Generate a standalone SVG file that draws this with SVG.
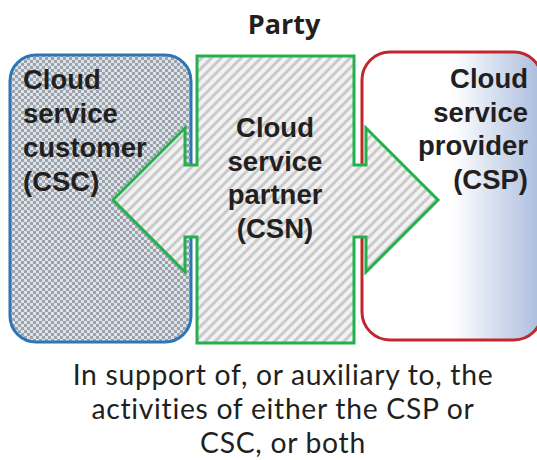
<svg xmlns="http://www.w3.org/2000/svg" width="537" height="460" viewBox="0 0 537 460">
<style>
.lbl{font-family:"Liberation Sans",Arial,sans-serif;font-weight:bold;font-size:27.5px;fill:#231f20}
.cap{font-family:Lato,"Open Sans",sans-serif;font-size:28.3px;letter-spacing:0.7px;fill:#231f20}
.title{font-family:"Open Sans","Liberation Sans",sans-serif;font-weight:bold;font-size:27px;fill:#231f20}
</style>
<defs>
<pattern id="checker" width="6" height="6" patternUnits="userSpaceOnUse">
<rect width="6" height="6" fill="#d8e5f1"/>
<rect width="3" height="3" fill="#a0a2a6"/>
<rect x="3" y="3" width="3" height="3" fill="#a0a2a6"/>
</pattern>
<pattern id="stripes" width="7" height="7" patternUnits="userSpaceOnUse" patternTransform="rotate(-45)">
<rect width="7" height="7" fill="#f2f2f2"/>
<rect width="7" height="3" fill="#cacaca"/>
</pattern>
<linearGradient id="grad" x1="0" y1="0" x2="1" y2="0">
<stop offset="0" stop-color="#ffffff"/>
<stop offset="0.5" stop-color="#ffffff"/>
<stop offset="1" stop-color="#aabcdd"/>
</linearGradient>
</defs>
<text class="title" x="284" y="34" text-anchor="middle">Party</text>
<g id="csc">
<rect x="10" y="55" width="181" height="287" rx="26" fill="url(#checker)" stroke="#2e75b6" stroke-width="3"/>
<text class="lbl"><tspan x="23" y="89">Cloud</tspan><tspan x="23" y="123">service</tspan><tspan x="23" y="157">customer</tspan><tspan x="23" y="191">(CSC)</tspan></text>
</g>
<g id="csp">
<rect x="362" y="52" width="180" height="288" rx="28" fill="url(#grad)" stroke="#c1272d" stroke-width="3"/>
<text class="lbl" text-anchor="end"><tspan x="528" y="88">Cloud</tspan><tspan x="528" y="122">service</tspan><tspan x="528" y="155">provider</tspan><tspan x="528" y="189">(CSP)</tspan></text>
</g>
<g id="csn">
<path d="M197,56 L354,56 L354,165 L366,165 L366,128 L438,200 L366,272 L366,237 L354,237 L354,343 L197,343 L197,237 L185,237 L185,272 L113,200 L185,128 L185,165 L197,165 Z" fill="url(#stripes)" stroke="#22b14c" stroke-width="3"/>
<text class="lbl" text-anchor="middle"><tspan x="275" y="137">Cloud</tspan><tspan x="275" y="170.5">service</tspan><tspan x="275" y="204">partner</tspan><tspan x="275" y="237.5">(CSN)</tspan></text>
</g>
<g id="connectors"></g>
<text class="cap" text-anchor="middle"><tspan x="283" y="385">In support of, or auxiliary to, the</tspan><tspan x="283" y="419">activities of either the CSP or</tspan><tspan x="283" y="453">CSC, or both</tspan></text>
</svg>
